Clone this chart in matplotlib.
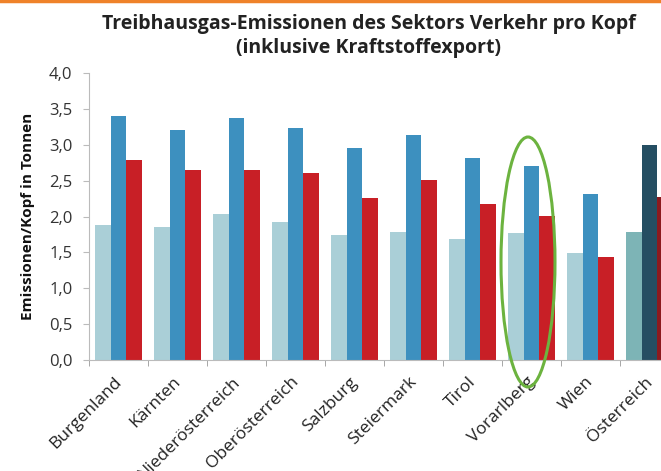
import matplotlib
matplotlib.use("Agg")
import matplotlib.pyplot as plt
import numpy as np
from matplotlib.patches import Ellipse
from matplotlib.ticker import FixedLocator, FuncFormatter

categories = ["Burgenland", "Kärnten", "Niederösterreich", "Oberösterreich", "Salzburg",
              "Steiermark", "Tirol", "Vorarlberg", "Wien", "Österreich"]
series_a = [1.88, 1.86, 2.04, 1.92, 1.74, 1.78, 1.69, 1.77, 1.49, 1.78]
series_b = [3.40, 3.21, 3.37, 3.23, 2.95, 3.14, 2.82, 2.71, 2.31, 2.99]
series_c = [2.79, 2.65, 2.65, 2.61, 2.26, 2.51, 2.17, 2.01, 1.43, 2.27]
yticks = [0.0, 0.5, 1.0, 1.5, 2.0, 2.5, 3.0, 3.5, 4.0]

col_a = ["#aacfd7"] * 9 + ["#7db4b6"]
col_b = ["#3d90bf"] * 9 + ["#254e62"]
col_c = ["#c81f26"] * 9 + ["#8c1a1e"]

plt.rcParams['font.family'] = ['Open Sans', 'DejaVu Sans']

fig = plt.figure(figsize=(6.61, 4.71), dpi=100)
ax = fig.add_axes([89/661, 1 - 360/471, 590/661, 287/471])

x = np.arange(len(categories))
w = 0.27
ax.bar(x - w, series_a, w, color=col_a, linewidth=0)
ax.bar(x, series_b, w, color=col_b, linewidth=0)
ax.bar(x + w, series_c, w, color=col_c, linewidth=0)

ax.set_xlim(-0.5, len(categories) - 0.5)
ax.set_ylim(0, 4.0)
ax.set_yticks(yticks)
ax.yaxis.set_major_formatter(FuncFormatter(lambda v, p: f"{v:.1f}".replace(".", ",")))
ax.set_xticks(x)
ax.set_xticklabels(categories, rotation=45, ha="right", rotation_mode="anchor")
ax.xaxis.set_minor_locator(FixedLocator(np.arange(len(categories) + 1) - 0.5))
ax.tick_params(axis="x", which="major", length=0, pad=10, labelsize=12.5, colors="#222222")
ax.tick_params(axis="x", which="minor", length=4, color="#999999")
ax.tick_params(axis="y", length=4, color="#bbbbbb", labelsize=12, labelcolor="#333333", pad=8)
for lbl in ax.get_xticklabels():
    lbl.set_transform(lbl.get_transform() + matplotlib.transforms.ScaledTranslation(-5/100, 0, fig.dpi_scale_trans))
for s in ["top", "right"]:
    ax.spines[s].set_visible(False)
for s in ["left", "bottom"]:
    ax.spines[s].set_color("#bbbbbb")
    ax.spines[s].set_linewidth(0.8)

ax.set_ylabel("Emissionen/Kopf in Tonnen", fontsize=11, fontweight="bold", color="#111111", labelpad=10)

fig.text(0.558, 1 - 36/471, "Treibhausgas-Emissionen des Sektors Verkehr pro Kopf\n(inklusive Kraftstoffexport)",
         ha="center", va="center", fontsize=14, fontweight="bold", color="#222222", linespacing=1.3)

# orange top rule
fig.add_artist(plt.Line2D([0, 1], [1 - 1/471, 1 - 1/471], color="#ef8229", linewidth=2.5,
                          transform=fig.transFigure))

# green highlight ellipse around Vorarlberg
ell = Ellipse((528/661, 1 - 262/471), 54/661, 250/471, transform=fig.transFigure,
              fill=False, edgecolor="#6cb33f", linewidth=2.2)
fig.add_artist(ell)

fig.savefig("out.png", dpi=100)
